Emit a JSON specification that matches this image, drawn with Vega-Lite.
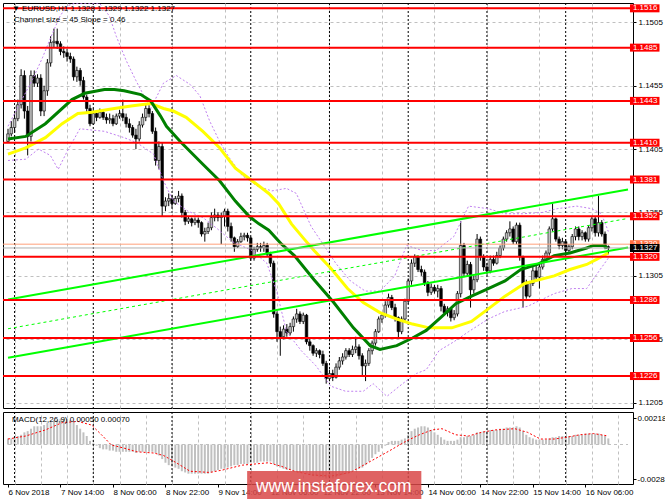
{
"$schema":"https://vega.github.io/schema/vega-lite/v6.json",
"background":"#ffffff",
"padding":{"left":2,"top":2,"right":0,"bottom":0},
"spacing":2,
"config":{"view":{"stroke":"#000000","strokeWidth":1},"axis":{"labelFont":"Liberation Sans","labelFontSize":8,"labelColor":"#000000","tickColor":"#000000","tickSize":3,"domain":false,"gridColor":"#c0c0c0","gridDash":[3,3],"gridWidth":1,"labelPadding":2},"text":{"font":"Liberation Sans"}},
"datasets":{
"candles":[
{"i":0,"o":1.1411,"h":1.1421,"l":1.141,"c":1.1417},{"i":1,"o":1.1417,"h":1.1427,"l":1.1415,"c":1.1422},{"i":2,"o":1.1422,"h":1.1433,"l":1.1419,"c":1.1429},{"i":3,"o":1.1429,"h":1.1444,"l":1.1427,"c":1.144},{"i":4,"o":1.144,"h":1.1468,"l":1.1437,"c":1.1463},{"i":5,"o":1.1463,"h":1.1467,"l":1.1429,"c":1.1435},{"i":6,"o":1.1435,"h":1.1439,"l":1.14,"c":1.1415},{"i":7,"o":1.1415,"h":1.1467,"l":1.1411,"c":1.1463},{"i":8,"o":1.1463,"h":1.1467,"l":1.1454,"c":1.1457},{"i":9,"o":1.1457,"h":1.1464,"l":1.1454,"c":1.1461},
{"i":10,"o":1.1461,"h":1.1464,"l":1.1431,"c":1.1435},{"i":11,"o":1.1435,"h":1.1455,"l":1.1431,"c":1.1451},{"i":12,"o":1.1451,"h":1.1476,"l":1.1447,"c":1.1473},{"i":13,"o":1.1473,"h":1.1494,"l":1.147,"c":1.1489},{"i":14,"o":1.1489,"h":1.15,"l":1.1485,"c":1.149},{"i":15,"o":1.149,"h":1.15,"l":1.1484,"c":1.1488},{"i":16,"o":1.1488,"h":1.149,"l":1.1479,"c":1.1482},{"i":17,"o":1.1482,"h":1.1486,"l":1.1477,"c":1.1481},{"i":18,"o":1.1481,"h":1.1484,"l":1.1474,"c":1.1478},{"i":19,"o":1.1478,"h":1.1481,"l":1.1473,"c":1.1476},
{"i":20,"o":1.1476,"h":1.1478,"l":1.1459,"c":1.1462},{"i":21,"o":1.1462,"h":1.147,"l":1.1458,"c":1.1467},{"i":22,"o":1.1467,"h":1.1469,"l":1.1455,"c":1.1459},{"i":23,"o":1.1459,"h":1.1462,"l":1.1444,"c":1.1446},{"i":24,"o":1.1446,"h":1.1448,"l":1.1433,"c":1.1437},{"i":25,"o":1.1437,"h":1.144,"l":1.1423,"c":1.1425},{"i":26,"o":1.1425,"h":1.1437,"l":1.1424,"c":1.1433},{"i":27,"o":1.1433,"h":1.1435,"l":1.1427,"c":1.143},{"i":28,"o":1.143,"h":1.1437,"l":1.1429,"c":1.1434},{"i":29,"o":1.1434,"h":1.1436,"l":1.1428,"c":1.143},
{"i":30,"o":1.143,"h":1.1433,"l":1.1425,"c":1.1428},{"i":31,"o":1.1428,"h":1.1433,"l":1.1425,"c":1.1429},{"i":32,"o":1.1429,"h":1.1432,"l":1.1423,"c":1.1425},{"i":33,"o":1.1425,"h":1.1433,"l":1.1424,"c":1.1431},{"i":34,"o":1.1431,"h":1.1436,"l":1.1429,"c":1.1433},{"i":35,"o":1.1433,"h":1.1444,"l":1.1427,"c":1.143},{"i":36,"o":1.143,"h":1.1433,"l":1.1422,"c":1.1425},{"i":37,"o":1.1425,"h":1.1429,"l":1.1418,"c":1.1422},{"i":38,"o":1.1422,"h":1.1424,"l":1.1414,"c":1.1416},{"i":39,"o":1.1416,"h":1.1421,"l":1.1405,"c":1.1413},
{"i":40,"o":1.1413,"h":1.1427,"l":1.1411,"c":1.1424},{"i":41,"o":1.1424,"h":1.1433,"l":1.1422,"c":1.143},{"i":42,"o":1.143,"h":1.1441,"l":1.1427,"c":1.1437},{"i":43,"o":1.1437,"h":1.144,"l":1.143,"c":1.1433},{"i":44,"o":1.1433,"h":1.1435,"l":1.1417,"c":1.1419},{"i":45,"o":1.1419,"h":1.1422,"l":1.1392,"c":1.1396},{"i":46,"o":1.1396,"h":1.1411,"l":1.1389,"c":1.1407},{"i":47,"o":1.1407,"h":1.141,"l":1.1352,"c":1.136},{"i":48,"o":1.136,"h":1.1367,"l":1.1356,"c":1.1364},{"i":49,"o":1.1364,"h":1.137,"l":1.136,"c":1.1366},
{"i":50,"o":1.1366,"h":1.1369,"l":1.1359,"c":1.1362},{"i":51,"o":1.1362,"h":1.1368,"l":1.1361,"c":1.1366},{"i":52,"o":1.1366,"h":1.1372,"l":1.1363,"c":1.1368},{"i":53,"o":1.1368,"h":1.137,"l":1.1351,"c":1.1355},{"i":54,"o":1.1355,"h":1.1357,"l":1.1345,"c":1.1348},{"i":55,"o":1.1348,"h":1.1352,"l":1.1346,"c":1.135},{"i":56,"o":1.135,"h":1.1351,"l":1.1344,"c":1.1347},{"i":57,"o":1.1347,"h":1.1351,"l":1.1345,"c":1.1349},{"i":58,"o":1.1349,"h":1.1351,"l":1.1343,"c":1.1347},{"i":59,"o":1.1347,"h":1.1348,"l":1.1336,"c":1.1338},
{"i":60,"o":1.1338,"h":1.1343,"l":1.1332,"c":1.134},{"i":61,"o":1.134,"h":1.1347,"l":1.1338,"c":1.1343},{"i":62,"o":1.1343,"h":1.1355,"l":1.1341,"c":1.1351},{"i":63,"o":1.1351,"h":1.1358,"l":1.1348,"c":1.1353},{"i":64,"o":1.1353,"h":1.1355,"l":1.1348,"c":1.1351},{"i":65,"o":1.1351,"h":1.1355,"l":1.133,"c":1.1352},{"i":66,"o":1.1352,"h":1.1358,"l":1.1344,"c":1.1356},{"i":67,"o":1.1356,"h":1.1358,"l":1.134,"c":1.1344},{"i":68,"o":1.1344,"h":1.1347,"l":1.1332,"c":1.1335},{"i":69,"o":1.1335,"h":1.1336,"l":1.1324,"c":1.1328},
{"i":70,"o":1.1328,"h":1.1334,"l":1.1327,"c":1.1332},{"i":71,"o":1.1332,"h":1.1339,"l":1.1331,"c":1.1336},{"i":72,"o":1.1336,"h":1.1339,"l":1.1333,"c":1.1337},{"i":73,"o":1.1337,"h":1.1339,"l":1.1332,"c":1.1335},{"i":74,"o":1.1335,"h":1.1336,"l":1.1317,"c":1.1319},{"i":75,"o":1.1319,"h":1.1328,"l":1.1317,"c":1.1326},{"i":76,"o":1.1326,"h":1.1331,"l":1.1324,"c":1.1328},{"i":77,"o":1.1328,"h":1.1331,"l":1.1324,"c":1.1327},{"i":78,"o":1.1327,"h":1.1332,"l":1.1324,"c":1.1329},{"i":79,"o":1.1329,"h":1.1331,"l":1.132,"c":1.1322},
{"i":80,"o":1.1322,"h":1.1324,"l":1.1312,"c":1.1315},{"i":81,"o":1.1315,"h":1.1317,"l":1.1272,"c":1.1275},{"i":82,"o":1.1275,"h":1.1277,"l":1.1253,"c":1.1261},{"i":83,"o":1.1261,"h":1.1265,"l":1.1242,"c":1.1257},{"i":84,"o":1.1257,"h":1.1266,"l":1.1255,"c":1.1263},{"i":85,"o":1.1263,"h":1.1267,"l":1.1257,"c":1.126},{"i":86,"o":1.126,"h":1.1268,"l":1.1258,"c":1.1265},{"i":87,"o":1.1265,"h":1.1273,"l":1.1261,"c":1.1271},{"i":88,"o":1.1271,"h":1.1279,"l":1.1268,"c":1.1275},{"i":89,"o":1.1275,"h":1.1277,"l":1.1267,"c":1.1269},
{"i":90,"o":1.1269,"h":1.1276,"l":1.1267,"c":1.1274},{"i":91,"o":1.1274,"h":1.1275,"l":1.1251,"c":1.1253},{"i":92,"o":1.1253,"h":1.1256,"l":1.1246,"c":1.125},{"i":93,"o":1.125,"h":1.1251,"l":1.1242,"c":1.1244},{"i":94,"o":1.1244,"h":1.1248,"l":1.1241,"c":1.1246},{"i":95,"o":1.1246,"h":1.1247,"l":1.124,"c":1.1243},{"i":96,"o":1.1243,"h":1.1246,"l":1.1234,"c":1.1236},{"i":97,"o":1.1236,"h":1.1238,"l":1.122,"c":1.1224},{"i":98,"o":1.1224,"h":1.1231,"l":1.1222,"c":1.1228},{"i":99,"o":1.1228,"h":1.1231,"l":1.1222,"c":1.1225},
{"i":100,"o":1.1225,"h":1.1236,"l":1.1224,"c":1.1233},{"i":101,"o":1.1233,"h":1.1241,"l":1.1231,"c":1.1238},{"i":102,"o":1.1238,"h":1.1244,"l":1.1235,"c":1.1241},{"i":103,"o":1.1241,"h":1.1248,"l":1.1239,"c":1.1246},{"i":104,"o":1.1246,"h":1.1248,"l":1.1241,"c":1.1243},{"i":105,"o":1.1243,"h":1.125,"l":1.1241,"c":1.1247},{"i":106,"o":1.1247,"h":1.1257,"l":1.1244,"c":1.1249},{"i":107,"o":1.1249,"h":1.1251,"l":1.1239,"c":1.1242},{"i":108,"o":1.1242,"h":1.1244,"l":1.1226,"c":1.1234},{"i":109,"o":1.1234,"h":1.1239,"l":1.1222,"c":1.1236},
{"i":110,"o":1.1236,"h":1.1248,"l":1.1234,"c":1.1246},{"i":111,"o":1.1246,"h":1.1254,"l":1.1243,"c":1.1252},{"i":112,"o":1.1252,"h":1.1263,"l":1.125,"c":1.1261},{"i":113,"o":1.1261,"h":1.1273,"l":1.126,"c":1.1271},{"i":114,"o":1.1271,"h":1.1276,"l":1.1268,"c":1.1274},{"i":115,"o":1.1274,"h":1.1285,"l":1.1272,"c":1.1282},{"i":116,"o":1.1282,"h":1.1291,"l":1.128,"c":1.1288},{"i":117,"o":1.1288,"h":1.129,"l":1.1278,"c":1.128},{"i":118,"o":1.128,"h":1.1283,"l":1.1269,"c":1.1272},{"i":119,"o":1.1272,"h":1.1273,"l":1.1256,"c":1.1261},
{"i":120,"o":1.1261,"h":1.1273,"l":1.1259,"c":1.1271},{"i":121,"o":1.1271,"h":1.1287,"l":1.1269,"c":1.1285},{"i":122,"o":1.1285,"h":1.1303,"l":1.1283,"c":1.1301},{"i":123,"o":1.1301,"h":1.1318,"l":1.1298,"c":1.1315},{"i":124,"o":1.1315,"h":1.1322,"l":1.1312,"c":1.132},{"i":125,"o":1.132,"h":1.1321,"l":1.1308,"c":1.131},{"i":126,"o":1.131,"h":1.1313,"l":1.1305,"c":1.1308},{"i":127,"o":1.1308,"h":1.131,"l":1.1297,"c":1.1299},{"i":128,"o":1.1299,"h":1.1301,"l":1.1289,"c":1.1292},{"i":129,"o":1.1292,"h":1.1299,"l":1.129,"c":1.1296},
{"i":130,"o":1.1296,"h":1.1298,"l":1.1291,"c":1.1293},{"i":131,"o":1.1293,"h":1.1298,"l":1.1288,"c":1.1295},{"i":132,"o":1.1295,"h":1.1297,"l":1.1277,"c":1.1281},{"i":133,"o":1.1281,"h":1.1283,"l":1.1274,"c":1.1276},{"i":134,"o":1.1276,"h":1.1281,"l":1.1273,"c":1.1279},{"i":135,"o":1.1279,"h":1.128,"l":1.1269,"c":1.1272},{"i":136,"o":1.1272,"h":1.1278,"l":1.127,"c":1.1275},{"i":137,"o":1.1275,"h":1.1293,"l":1.1273,"c":1.1291},{"i":138,"o":1.1291,"h":1.1348,"l":1.1288,"c":1.1329},{"i":139,"o":1.1329,"h":1.1331,"l":1.1304,"c":1.1307},
{"i":140,"o":1.1307,"h":1.1317,"l":1.1305,"c":1.1314},{"i":141,"o":1.1314,"h":1.1316,"l":1.128,"c":1.1294},{"i":142,"o":1.1294,"h":1.1305,"l":1.1291,"c":1.1302},{"i":143,"o":1.1302,"h":1.1338,"l":1.13,"c":1.1334},{"i":144,"o":1.1334,"h":1.1336,"l":1.1317,"c":1.132},{"i":145,"o":1.132,"h":1.1322,"l":1.1309,"c":1.1312},{"i":146,"o":1.1312,"h":1.1315,"l":1.1306,"c":1.1309},{"i":147,"o":1.1309,"h":1.1321,"l":1.1307,"c":1.1318},{"i":148,"o":1.1318,"h":1.1321,"l":1.1313,"c":1.1315},{"i":149,"o":1.1315,"h":1.1324,"l":1.1314,"c":1.1321},
{"i":150,"o":1.1321,"h":1.1329,"l":1.1319,"c":1.1327},{"i":151,"o":1.1327,"h":1.1336,"l":1.1325,"c":1.1334},{"i":152,"o":1.1334,"h":1.1341,"l":1.1332,"c":1.1339},{"i":153,"o":1.1339,"h":1.1348,"l":1.1336,"c":1.1342},{"i":154,"o":1.1342,"h":1.1344,"l":1.133,"c":1.1332},{"i":155,"o":1.1332,"h":1.1347,"l":1.133,"c":1.1345},{"i":156,"o":1.1345,"h":1.1347,"l":1.1317,"c":1.132},{"i":157,"o":1.132,"h":1.1321,"l":1.128,"c":1.1299},{"i":158,"o":1.1299,"h":1.1302,"l":1.1287,"c":1.1289},{"i":159,"o":1.1289,"h":1.1301,"l":1.1288,"c":1.1299},
{"i":160,"o":1.1299,"h":1.1312,"l":1.1297,"c":1.1309},{"i":161,"o":1.1309,"h":1.1314,"l":1.1301,"c":1.1304},{"i":162,"o":1.1304,"h":1.1315,"l":1.1295,"c":1.1312},{"i":163,"o":1.1312,"h":1.1321,"l":1.131,"c":1.1318},{"i":164,"o":1.1318,"h":1.1325,"l":1.1316,"c":1.1323},{"i":165,"o":1.1323,"h":1.1344,"l":1.1321,"c":1.1342},{"i":166,"o":1.1342,"h":1.1362,"l":1.134,"c":1.135},{"i":167,"o":1.135,"h":1.1351,"l":1.1332,"c":1.1334},{"i":168,"o":1.1334,"h":1.1336,"l":1.1326,"c":1.1329},{"i":169,"o":1.1329,"h":1.1335,"l":1.1326,"c":1.1332},
{"i":170,"o":1.1332,"h":1.1334,"l":1.1323,"c":1.1325},{"i":171,"o":1.1325,"h":1.133,"l":1.1323,"c":1.1328},{"i":172,"o":1.1328,"h":1.1338,"l":1.1326,"c":1.1336},{"i":173,"o":1.1336,"h":1.1344,"l":1.1333,"c":1.1342},{"i":174,"o":1.1342,"h":1.1344,"l":1.1333,"c":1.1336},{"i":175,"o":1.1336,"h":1.1341,"l":1.1333,"c":1.1339},{"i":176,"o":1.1339,"h":1.134,"l":1.1332,"c":1.1334},{"i":177,"o":1.1334,"h":1.1345,"l":1.1332,"c":1.1343},{"i":178,"o":1.1343,"h":1.1352,"l":1.134,"c":1.135},{"i":179,"o":1.135,"h":1.1352,"l":1.1336,"c":1.1339},
{"i":180,"o":1.1339,"h":1.1368,"l":1.1336,"c":1.1347},{"i":181,"o":1.1347,"h":1.1349,"l":1.1336,"c":1.1338},{"i":182,"o":1.1338,"h":1.134,"l":1.1326,"c":1.1328},{"i":183,"o":1.1328,"h":1.1329,"l":1.1322,"c":1.1327}
],
"green":[{"i":0,"p":1.1413},{"i":5.4,"p":1.1415},{"i":11.4,"p":1.1425},{"i":19.5,"p":1.1444},{"i":23.4,"p":1.1449},{"i":29.4,"p":1.1452},{"i":32.4,"p":1.1452},{"i":35.4,"p":1.1451},{"i":40.5,"p":1.1448},{"i":43.5,"p":1.1443},{"i":46.5,"p":1.1431},{"i":48.3,"p":1.1423},{"i":52.5,"p":1.1411},{"i":59.4,"p":1.1393},{"i":64.5,"p":1.138},{"i":69.3,"p":1.1364},{"i":73.5,"p":1.1352},{"i":76.5,"p":1.1346},{"i":79.5,"p":1.1341},{"i":83.4,"p":1.133},{"i":87.3,"p":1.1321},{"i":93.3,"p":1.1302},{"i":99.3,"p":1.1284},{"i":105.3,"p":1.1264},{"i":110.4,"p":1.125},{"i":113.4,"p":1.1247},{"i":118.5,"p":1.125},{"i":123.3,"p":1.1256},{"i":127.5,"p":1.1262},{"i":132.3,"p":1.1273},{"i":136.5,"p":1.1283},{"i":141.3,"p":1.1289},{"i":146.4,"p":1.1295},{"i":151.5,"p":1.1301},{"i":156.3,"p":1.131},{"i":161.4,"p":1.1314},{"i":166.5,"p":1.1321},{"i":171.3,"p":1.1323},{"i":176.4,"p":1.1327},{"i":178.5,"p":1.1329},{"i":181.5,"p":1.1329},{"i":182.7,"p":1.1327}],
"yellow":[{"i":0,"p":1.1401},{"i":5.4,"p":1.1406},{"i":11.4,"p":1.1414},{"i":16.5,"p":1.1425},{"i":21.3,"p":1.1433},{"i":25.5,"p":1.1434},{"i":32.4,"p":1.1437},{"i":37.5,"p":1.1439},{"i":43.5,"p":1.1441},{"i":47.4,"p":1.1437},{"i":50.4,"p":1.1435},{"i":54.3,"p":1.143},{"i":59.4,"p":1.1419},{"i":64.5,"p":1.1406},{"i":69.3,"p":1.139},{"i":74.4,"p":1.138},{"i":79.5,"p":1.137},{"i":82.5,"p":1.1362},{"i":86.4,"p":1.1346},{"i":90.3,"p":1.1334},{"i":93.3,"p":1.1325},{"i":98.4,"p":1.1311},{"i":103.5,"p":1.1295},{"i":108.3,"p":1.1284},{"i":113.4,"p":1.1276},{"i":118.5,"p":1.1271},{"i":123.3,"p":1.1267},{"i":128.4,"p":1.1264},{"i":135.3,"p":1.1264},{"i":141.3,"p":1.1269},{"i":146.4,"p":1.1279},{"i":151.5,"p":1.1289},{"i":157.5,"p":1.1299},{"i":166.5,"p":1.1305},{"i":171.3,"p":1.131},{"i":176.4,"p":1.1314},{"i":179.4,"p":1.1318},{"i":183,"p":1.1323}],
"bands":[{"b":"up","i":0,"p":1.1423},{"b":"up","i":2.4,"p":1.1435},{"b":"up","i":7.5,"p":1.146},{"b":"up","i":10.5,"p":1.1477},{"b":"up","i":13.5,"p":1.1496},{"b":"up","i":15.9,"p":1.151},{"b":"up","i":18,"p":1.1518},{"b":"up","i":20.4,"p":1.152},{"b":"up","i":27.9,"p":1.152},{"b":"up","i":30.9,"p":1.151},{"b":"up","i":33,"p":1.1494},{"b":"up","i":36,"p":1.1475},{"b":"up","i":39,"p":1.1459},{"b":"up","i":43.5,"p":1.1437},{"b":"up","i":47.4,"p":1.1457},{"b":"up","i":51.3,"p":1.1463},{"b":"up","i":55.5,"p":1.1456},{"b":"up","i":58.5,"p":1.1447},{"b":"up","i":61.5,"p":1.1427},{"b":"up","i":64.5,"p":1.1411},{"b":"up","i":67.5,"p":1.1398},{"b":"up","i":71.4,"p":1.1384},{"b":"up","i":75.9,"p":1.1376},{"b":"up","i":80.4,"p":1.1372},{"b":"up","i":84.9,"p":1.1374},{"b":"up","i":87.9,"p":1.137},{"b":"up","i":92.4,"p":1.1344},{"b":"up","i":96.3,"p":1.1329},{"b":"up","i":99.9,"p":1.1315},{"b":"up","i":104.4,"p":1.1301},{"b":"up","i":108.9,"p":1.1293},{"b":"up","i":113.4,"p":1.1293},{"b":"up","i":117.9,"p":1.1305},{"b":"up","i":121.5,"p":1.1329},{"b":"up","i":126.3,"p":1.1325},{"b":"up","i":130.5,"p":1.1325},{"b":"up","i":135.9,"p":1.1336},{"b":"up","i":140.4,"p":1.136},{"b":"up","i":146.4,"p":1.1358},{"b":"up","i":151.5,"p":1.1354},{"b":"up","i":156.9,"p":1.1354},{"b":"up","i":162.9,"p":1.1355},{"b":"up","i":167.4,"p":1.1358},{"b":"up","i":173.4,"p":1.136},{"b":"up","i":177.9,"p":1.1358},{"b":"up","i":180.9,"p":1.1354},{"b":"up","i":183,"p":1.134},
{"b":"lo","i":0,"p":1.1396},{"b":"lo","i":5.4,"p":1.1397},{"b":"lo","i":9.3,"p":1.1405},{"b":"lo","i":12.9,"p":1.14},{"b":"lo","i":15.3,"p":1.1389},{"b":"lo","i":18,"p":1.1403},{"b":"lo","i":21.9,"p":1.1421},{"b":"lo","i":29.4,"p":1.1419},{"b":"lo","i":35.4,"p":1.1414},{"b":"lo","i":39.3,"p":1.141},{"b":"lo","i":44.4,"p":1.1401},{"b":"lo","i":47.4,"p":1.138},{"b":"lo","i":50.4,"p":1.1364},{"b":"lo","i":54.9,"p":1.1356},{"b":"lo","i":59.4,"p":1.1351},{"b":"lo","i":63.9,"p":1.1342},{"b":"lo","i":68.4,"p":1.1332},{"b":"lo","i":74.4,"p":1.1325},{"b":"lo","i":78.9,"p":1.1315},{"b":"lo","i":81.9,"p":1.1293},{"b":"lo","i":84.9,"p":1.1261},{"b":"lo","i":89.4,"p":1.1246},{"b":"lo","i":93.9,"p":1.1234},{"b":"lo","i":98.4,"p":1.1218},{"b":"lo","i":102.9,"p":1.1214},{"b":"lo","i":108.3,"p":1.1214},{"b":"lo","i":111.3,"p":1.122},{"b":"lo","i":115.5,"p":1.121},{"b":"lo","i":120.3,"p":1.122},{"b":"lo","i":124.5,"p":1.1228},{"b":"lo","i":127.5,"p":1.1231},{"b":"lo","i":131.4,"p":1.1246},{"b":"lo","i":135.9,"p":1.1253},{"b":"lo","i":140.4,"p":1.1261},{"b":"lo","i":146.4,"p":1.1271},{"b":"lo","i":151.5,"p":1.1277},{"b":"lo","i":158.4,"p":1.1281},{"b":"lo","i":166.5,"p":1.1291},{"b":"lo","i":171.9,"p":1.1295},{"b":"lo","i":176.4,"p":1.1295},{"b":"lo","i":179.4,"p":1.1306},{"b":"lo","i":183,"p":1.1319}],
"channel":[{"line":"up","i":0,"p":1.12863},{"line":"up","i":189,"p":1.13732},{"line":"lo","i":0,"p":1.12404},{"line":"lo","i":189,"p":1.13274},{"line":"mid","i":0,"p":1.12633},{"line":"mid","i":189,"p":1.13503}],
"levels":[{"p":1.1516},{"p":1.1485},{"p":1.1443},{"p":1.141},{"p":1.1381},{"p":1.1352},{"p":1.132},{"p":1.1286},{"p":1.1256},{"p":1.1226}],
"quotes":[{"name":"ask","p":1.133},{"name":"bid","p":1.1327}],
"days":[{"day":"7 Nov","i":2},{"day":"8 Nov","i":26},{"day":"9 Nov","i":50},{"day":"12 Nov","i":74},{"day":"13 Nov","i":98},{"day":"14 Nov","i":122},{"day":"15 Nov","i":146},{"day":"16 Nov","i":170}],
"macd":[{"i":0,"m":0.0005},{"i":1,"m":0.0005},{"i":2,"m":0.0006},{"i":3,"m":0.0007},{"i":4,"m":0.0008},{"i":5,"m":0.001},{"i":6,"m":0.0011},{"i":7,"m":0.0013},{"i":8,"m":0.0015},{"i":9,"m":0.0015},{"i":10,"m":0.0015},{"i":11,"m":0.0016},{"i":12,"m":0.0018},{"i":13,"m":0.0019},{"i":14,"m":0.002},{"i":15,"m":0.002},{"i":16,"m":0.0021},{"i":17,"m":0.0021},{"i":18,"m":0.0021},{"i":19,"m":0.002},{"i":20,"m":0.0019},{"i":21,"m":0.0016},{"i":22,"m":0.0013},{"i":23,"m":0.001},{"i":24,"m":0.0007},{"i":25,"m":0.0003},{"i":26,"m":0.0001},{"i":27,"m":-0.0001},{"i":28,"m":-0.0003},{"i":29,"m":-0.0004},{"i":30,"m":-0.0004},{"i":31,"m":-0.0005},{"i":32,"m":-0.0005},{"i":33,"m":-0.0006},{"i":34,"m":-0.0006},{"i":35,"m":-0.0006},{"i":36,"m":-0.0006},{"i":37,"m":-0.0006},{"i":38,"m":-0.0006},{"i":39,"m":-0.0007},{"i":40,"m":-0.0006},{"i":41,"m":-0.0006},{"i":42,"m":-0.0006},{"i":43,"m":-0.0006},{"i":44,"m":-0.0006},{"i":45,"m":-0.0007},{"i":46,"m":-0.0009},{"i":47,"m":-0.0012},{"i":48,"m":-0.0015},{"i":49,"m":-0.0017},{"i":50,"m":-0.0018},{"i":51,"m":-0.0019},{"i":52,"m":-0.002},{"i":53,"m":-0.0022},{"i":54,"m":-0.0023},{"i":55,"m":-0.0024},{"i":56,"m":-0.0024},{"i":57,"m":-0.0024},{"i":58,"m":-0.0024},{"i":59,"m":-0.0024},{"i":60,"m":-0.0024},{"i":61,"m":-0.0024},{"i":62,"m":-0.0023},{"i":63,"m":-0.0022},{"i":64,"m":-0.0021},{"i":65,"m":-0.002},{"i":66,"m":-0.002},{"i":67,"m":-0.0019},{"i":68,"m":-0.0018},{"i":69,"m":-0.0017},{"i":70,"m":-0.0017},{"i":71,"m":-0.0016},{"i":72,"m":-0.0016},{"i":73,"m":-0.0016},{"i":74,"m":-0.0015},{"i":75,"m":-0.0015},{"i":76,"m":-0.0015},{"i":77,"m":-0.0014},{"i":78,"m":-0.0014},{"i":79,"m":-0.0014},{"i":80,"m":-0.0014},{"i":81,"m":-0.0016},{"i":82,"m":-0.0018},{"i":83,"m":-0.0019},{"i":84,"m":-0.002},{"i":85,"m":-0.0021},{"i":86,"m":-0.0021},{"i":87,"m":-0.0022},{"i":88,"m":-0.0022},{"i":89,"m":-0.0023},{"i":90,"m":-0.0023},{"i":91,"m":-0.0024},{"i":92,"m":-0.0025},{"i":93,"m":-0.0026},{"i":94,"m":-0.0026},{"i":95,"m":-0.0027},{"i":96,"m":-0.0027},{"i":97,"m":-0.0028},{"i":98,"m":-0.0028},{"i":99,"m":-0.0028},{"i":100,"m":-0.0027},{"i":101,"m":-0.0026},{"i":102,"m":-0.0025},{"i":103,"m":-0.0024},{"i":104,"m":-0.0023},{"i":105,"m":-0.0022},{"i":106,"m":-0.0021},{"i":107,"m":-0.002},{"i":108,"m":-0.0019},{"i":109,"m":-0.0017},{"i":110,"m":-0.0014},{"i":111,"m":-0.0011},{"i":112,"m":-0.0008},{"i":113,"m":-0.0006},{"i":114,"m":-0.0003},{"i":115,"m":-0.0001},{"i":116,"m":0.0002},{"i":117,"m":0.0003},{"i":118,"m":0.0003},{"i":119,"m":0.0003},{"i":120,"m":0.0004},{"i":121,"m":0.0005},{"i":122,"m":0.0008},{"i":123,"m":0.0011},{"i":124,"m":0.0013},{"i":125,"m":0.0014},{"i":126,"m":0.0015},{"i":127,"m":0.0015},{"i":128,"m":0.0014},{"i":129,"m":0.0012},{"i":130,"m":0.001},{"i":131,"m":0.0008},{"i":132,"m":0.0006},{"i":133,"m":0.0004},{"i":134,"m":0.0003},{"i":135,"m":0.0003},{"i":136,"m":0.0003},{"i":137,"m":0.0004},{"i":138,"m":0.0006},{"i":139,"m":0.0006},{"i":140,"m":0.0007},{"i":141,"m":0.0007},{"i":142,"m":0.0008},{"i":143,"m":0.001},{"i":144,"m":0.001},{"i":145,"m":0.0011},{"i":146,"m":0.0011},{"i":147,"m":0.0012},{"i":148,"m":0.0012},{"i":149,"m":0.0012},{"i":150,"m":0.0013},{"i":151,"m":0.0013},{"i":152,"m":0.0014},{"i":153,"m":0.0014},{"i":154,"m":0.0014},{"i":155,"m":0.0015},{"i":156,"m":0.0014},{"i":157,"m":0.0011},{"i":158,"m":0.0008},{"i":159,"m":0.0006},{"i":160,"m":0.0005},{"i":161,"m":0.0004},{"i":162,"m":0.0004},{"i":163,"m":0.0004},{"i":164,"m":0.0004},{"i":165,"m":0.0005},{"i":166,"m":0.0006},{"i":167,"m":0.0006},{"i":168,"m":0.0007},{"i":169,"m":0.0007},{"i":170,"m":0.0007},{"i":171,"m":0.0007},{"i":172,"m":0.0007},{"i":173,"m":0.0008},{"i":174,"m":0.0008},{"i":175,"m":0.0008},{"i":176,"m":0.0009},{"i":177,"m":0.0009},{"i":178,"m":0.0009},{"i":179,"m":0.0009},{"i":180,"m":0.0009},{"i":181,"m":0.0008},{"i":182,"m":0.0007},{"i":183,"m":0.0005}],
"signal":[{"i":0,"v":0.00045},{"i":5.4,"v":0.0007},{"i":11.4,"v":0.0012},{"i":16.5,"v":0.0018},{"i":21.3,"v":0.0019},{"i":25.5,"v":0.0016},{"i":28.5,"v":0.0008},{"i":31.5,"v":-0.00004},{"i":35.4,"v":-0.0003},{"i":39.3,"v":-0.0006},{"i":44.4,"v":-0.0007},{"i":47.4,"v":-0.0009},{"i":51.3,"v":-0.0015},{"i":55.5,"v":-0.0022},{"i":61.5,"v":-0.0023},{"i":65.4,"v":-0.0021},{"i":71.4,"v":-0.0017},{"i":79.5,"v":-0.0015},{"i":83.4,"v":-0.0018},{"i":87.3,"v":-0.0022},{"i":92.4,"v":-0.0025},{"i":98.4,"v":-0.0026},{"i":104.4,"v":-0.0023},{"i":110.4,"v":-0.0014},{"i":116.4,"v":-0.0005},{"i":121.5,"v":0.0003},{"i":125.4,"v":0.0008},{"i":129.3,"v":0.0012},{"i":132.3,"v":0.0013},{"i":136.5,"v":0.0008},{"i":140.4,"v":0.0007},{"i":144.3,"v":0.001},{"i":148.5,"v":0.0012},{"i":154.5,"v":0.0013},{"i":158.4,"v":0.001},{"i":162.3,"v":0.00045},{"i":166.5,"v":0.00045},{"i":170.4,"v":0.0006},{"i":174.3,"v":0.0008},{"i":178.5,"v":0.0009},{"i":183,"v":0.0007}]
},
"vconcat":[
{
"width":630,"height":405,
"layer":[
{"data":{"name":"days"},"mark":{"type":"rule","color":"#000000","strokeDash":[2,2],"strokeWidth":1,"clip":true},
 "encoding":{"x":{"field":"i","type":"quantitative","scale":{"domain":[0,189],"nice":false,"zero":false},"axis":{"title":null,"values":[2,10,18,26,34,42,50,58,66,74,82,90,98,106,114,122,130,138,146,154,162,170,178,186],"labels":false,"ticks":false,"grid":true}}}},
{"data":{"name":"candles"},"mark":{"type":"rule","color":"#000000","strokeWidth":1,"clip":true},
 "encoding":{"x":{"field":"i","type":"quantitative","scale":{"domain":[0,189],"nice":false,"zero":false}},
  "y":{"field":"l","type":"quantitative","scale":{"domain":[1.12008,1.15202],"nice":false,"zero":false},"axis":{"title":null,"orient":"right","values":[1.1205,1.123,1.1255,1.128,1.1305,1.133,1.1355,1.138,1.1405,1.143,1.1455,1.148,1.1505],"format":".4f","grid":true,"labelBaseline":"middle"}},
  "y2":{"field":"h"}}},
{"data":{"name":"candles"},"mark":{"type":"bar","width":2.6,"stroke":"#000000","strokeWidth":0.6,"clip":true},
 "encoding":{"x":{"field":"i","type":"quantitative","scale":{"domain":[0,189],"nice":false,"zero":false}},
  "y":{"field":"o","type":"quantitative","scale":{"domain":[1.12008,1.15202],"nice":false,"zero":false}},
  "y2":{"field":"c"},
  "fill":{"condition":{"test":"datum.c < datum.o","value":"#000000"},"value":"#c0c0c0"}}},
{"data":{"name":"bands"},"mark":{"type":"line","color":"#c080f0","strokeDash":[2,2],"strokeWidth":1,"clip":true},
 "encoding":{"x":{"field":"i","type":"quantitative","scale":{"domain":[0,189],"nice":false,"zero":false}},"y":{"field":"p","type":"quantitative","scale":{"domain":[1.12008,1.15202],"nice":false,"zero":false}},"detail":{"field":"b"}}},
{"data":{"name":"yellow"},"mark":{"type":"line","color":"#ffff00","strokeWidth":3,"clip":true},
 "encoding":{"x":{"field":"i","type":"quantitative","scale":{"domain":[0,189],"nice":false,"zero":false}},"y":{"field":"p","type":"quantitative","scale":{"domain":[1.12008,1.15202],"nice":false,"zero":false}}}},
{"data":{"name":"green"},"mark":{"type":"line","color":"#008000","strokeWidth":3,"clip":true},
 "encoding":{"x":{"field":"i","type":"quantitative","scale":{"domain":[0,189],"nice":false,"zero":false}},"y":{"field":"p","type":"quantitative","scale":{"domain":[1.12008,1.15202],"nice":false,"zero":false}}}},
{"data":{"name":"channel"},"transform":[{"filter":"datum.line != 'mid'"}],"mark":{"type":"line","color":"#00ff00","strokeWidth":2,"clip":true},
 "encoding":{"x":{"field":"i","type":"quantitative","scale":{"domain":[0,189],"nice":false,"zero":false}},"y":{"field":"p","type":"quantitative","scale":{"domain":[1.12008,1.15202],"nice":false,"zero":false}},"detail":{"field":"line"}}},
{"data":{"name":"channel"},"transform":[{"filter":"datum.line == 'mid'"}],"mark":{"type":"line","color":"#00ff00","strokeWidth":1,"strokeDash":[3,3],"clip":true},
 "encoding":{"x":{"field":"i","type":"quantitative","scale":{"domain":[0,189],"nice":false,"zero":false}},"y":{"field":"p","type":"quantitative","scale":{"domain":[1.12008,1.15202],"nice":false,"zero":false}}}},
{"data":{"name":"quotes"},"mark":{"type":"rule","strokeWidth":1,"clip":true},
 "encoding":{"y":{"field":"p","type":"quantitative","scale":{"domain":[1.12008,1.15202],"nice":false,"zero":false}},"color":{"field":"name","type":"nominal","scale":{"domain":["ask","bid"],"range":["#ffa07a","#b0b0b0"]},"legend":null}}},
{"data":{"name":"levels"},"mark":{"type":"rule","color":"#ff0000","strokeWidth":2,"clip":true},
 "encoding":{"y":{"field":"p","type":"quantitative","scale":{"domain":[1.12008,1.15202],"nice":false,"zero":false}}}},
{"data":{"name":"levels"},"mark":{"type":"rect","color":"#ff0000","yOffset":-4,"y2Offset":4},
 "encoding":{"x":{"datum":189.6,"type":"quantitative","scale":{"domain":[0,189],"nice":false,"zero":false}},"x2":{"datum":198.6},"y":{"field":"p","type":"quantitative","scale":{"domain":[1.12008,1.15202],"nice":false,"zero":false}},"y2":{"field":"p"}}},
{"data":{"name":"levels"},"mark":{"type":"text","color":"#ffffff","fontSize":8,"align":"left","baseline":"middle","font":"Liberation Sans"},
 "encoding":{"x":{"datum":190.5,"type":"quantitative","scale":{"domain":[0,189],"nice":false,"zero":false}},"y":{"field":"p","type":"quantitative","scale":{"domain":[1.12008,1.15202],"nice":false,"zero":false}},"text":{"field":"p","format":".4f"}}},
{"data":{"name":"quotes"},"transform":[{"filter":"datum.name == 'ask'"}],"mark":{"type":"rect","color":"#ff7043","yOffset":-4,"y2Offset":4},
 "encoding":{"x":{"datum":189.6,"type":"quantitative","scale":{"domain":[0,189],"nice":false,"zero":false}},"x2":{"datum":198.6},"y":{"field":"p","type":"quantitative","scale":{"domain":[1.12008,1.15202],"nice":false,"zero":false}},"y2":{"field":"p"}}},
{"data":{"name":"quotes"},"transform":[{"filter":"datum.name == 'ask'"}],"mark":{"type":"text","color":"#ffffff","fontSize":8,"align":"left","baseline":"middle","font":"Liberation Sans"},
 "encoding":{"x":{"datum":190.5,"type":"quantitative","scale":{"domain":[0,189],"nice":false,"zero":false}},"y":{"field":"p","type":"quantitative","scale":{"domain":[1.12008,1.15202],"nice":false,"zero":false}},"text":{"field":"p","format":".4f"}}},
{"data":{"name":"quotes"},"transform":[{"filter":"datum.name == 'bid'"}],"mark":{"type":"rect","color":"#000000","yOffset":-4,"y2Offset":4},
 "encoding":{"x":{"datum":189.6,"type":"quantitative","scale":{"domain":[0,189],"nice":false,"zero":false}},"x2":{"datum":198.6},"y":{"field":"p","type":"quantitative","scale":{"domain":[1.12008,1.15202],"nice":false,"zero":false}},"y2":{"field":"p"}}},
{"data":{"name":"quotes"},"transform":[{"filter":"datum.name == 'bid'"}],"mark":{"type":"text","color":"#ffffff","fontSize":8,"align":"left","baseline":"middle","font":"Liberation Sans"},
 "encoding":{"x":{"datum":190.5,"type":"quantitative","scale":{"domain":[0,189],"nice":false,"zero":false}},"y":{"field":"p","type":"quantitative","scale":{"domain":[1.12008,1.15202],"nice":false,"zero":false}},"text":{"field":"p","format":".4f"}}},
{"data":{"values":[{"t":"▼ EURUSD,H1  1.1328 1.1329 1.1322 1.1327","s":"Channel size = 45 Slope = 0.46"}]},"mark":{"type":"text","color":"#000000","fontSize":8,"align":"left","baseline":"middle","font":"Liberation Sans"},
 "encoding":{"x":{"datum":1.2,"type":"quantitative","scale":{"domain":[0,189],"nice":false,"zero":false}},"y":{"datum":1.15155,"type":"quantitative","scale":{"domain":[1.12008,1.15202],"nice":false,"zero":false}},"text":{"field":"t"}}},
{"data":{"values":[{"t":"▼ EURUSD,H1  1.1328 1.1329 1.1322 1.1327","s":"Channel size = 45 Slope = 0.46"}]},"mark":{"type":"text","color":"#000000","fontSize":8,"align":"left","baseline":"middle","font":"Liberation Sans"},
 "encoding":{"x":{"datum":1.8,"type":"quantitative","scale":{"domain":[0,189],"nice":false,"zero":false}},"y":{"datum":1.15068,"type":"quantitative","scale":{"domain":[1.12008,1.15202],"nice":false,"zero":false}},"text":{"field":"s"}}}
]
},
{
"width":630,"height":72,
"resolve":{"axis":{"x":"independent"}},
"layer":[
{"data":{"name":"macd"},"mark":{"type":"bar","color":"#c0c0c0","width":2,"clip":true},
 "encoding":{"x":{"field":"i","type":"quantitative","scale":{"domain":[0,189],"nice":false,"zero":false},"axis":{"title":null,"values":[0,16,32,48,64,80,96,112,128,144,160,176],"labelExpr":"['6 Nov 2018','7 Nov 14:00','8 Nov 06:00','8 Nov 22:00','9 Nov 14:00','12 Nov 06:00','12 Nov 22:00','13 Nov 14:00','14 Nov 06:00','14 Nov 22:00','15 Nov 14:00','16 Nov 06:00'][round(datum.value/16)]","labelAlign":"left","labelFlush":false,"labelOverlap":false,"grid":false,"labelPadding":1}},
  "y":{"field":"m","type":"quantitative","scale":{"domain":[-0.00325,0.002675],"nice":false,"zero":false},"axis":{"title":null,"orient":"right","values":[0.00218,0,-0.00284],"labelExpr":"datum.value == 0 ? '0.00' : replace(format(datum.value, '.5f'), '\u2212', '-')","grid":false,"labelBaseline":"middle","labelPadding":1}},
  "y2":{"datum":0}}},
{"data":{"values":[{}]},"mark":{"type":"rule","color":"#c0c0c0","strokeDash":[3,3],"strokeWidth":1,"clip":true},
 "encoding":{"x":{"datum":0,"type":"quantitative","scale":{"domain":[0,189],"nice":false,"zero":false},"axis":{"title":null,"orient":"top","values":[2,10,18,26,34,42,50,58,66,74,82,90,98,106,114,122,130,138,146,154,162,170,178,186],"labels":false,"ticks":false,"grid":true}},"x2":{"datum":189},
  "y":{"datum":0,"type":"quantitative","scale":{"domain":[-0.00325,0.002675],"nice":false,"zero":false}}}},
{"data":{"name":"days"},"mark":{"type":"rule","color":"#000000","strokeDash":[2,2],"strokeWidth":1,"clip":true},
 "encoding":{"x":{"field":"i","type":"quantitative","scale":{"domain":[0,189],"nice":false,"zero":false},"axis":null}}},
{"data":{"name":"signal"},"mark":{"type":"line","color":"#ff0000","strokeDash":[2,2],"strokeWidth":1,"clip":true},
 "encoding":{"x":{"field":"i","type":"quantitative","scale":{"domain":[0,189],"nice":false,"zero":false},"axis":null},"y":{"field":"v","type":"quantitative","scale":{"domain":[-0.00325,0.002675],"nice":false,"zero":false}}}},
{"data":{"values":[{"t":"MACD(12,26,9) 0.00050 0.00070"}]},"mark":{"type":"text","color":"#000000","fontSize":8,"align":"left","baseline":"middle","font":"Liberation Sans"},
 "encoding":{"x":{"datum":1.2,"type":"quantitative","scale":{"domain":[0,189],"nice":false,"zero":false},"axis":null},"y":{"datum":0.002017,"type":"quantitative","scale":{"domain":[-0.00325,0.002675],"nice":false,"zero":false}},"text":{"field":"t"}}},
{"data":{"values":[{}]},"mark":{"type":"rect","color":"#d94848","opacity":0.85},
 "encoding":{"x":{"datum":72.9,"type":"quantitative","scale":{"domain":[0,189],"nice":false,"zero":false},"axis":null},"x2":{"datum":126},"y":{"datum":-0.002181,"type":"quantitative","scale":{"domain":[-0.00325,0.002675],"nice":false,"zero":false}},"y2":{"datum":-0.004732}}},
{"data":{"values":[{"t":"www.instaforex.com"}]},"mark":{"type":"text","color":"#ffffff","fontSize":17.5,"align":"center","baseline":"middle","font":"Liberation Sans"},
 "encoding":{"x":{"datum":99.3,"type":"quantitative","scale":{"domain":[0,189],"nice":false,"zero":false},"axis":null},"y":{"datum":-0.0035,"type":"quantitative","scale":{"domain":[-0.00325,0.002675],"nice":false,"zero":false}},"text":{"field":"t"}}}
]
}
]
}
